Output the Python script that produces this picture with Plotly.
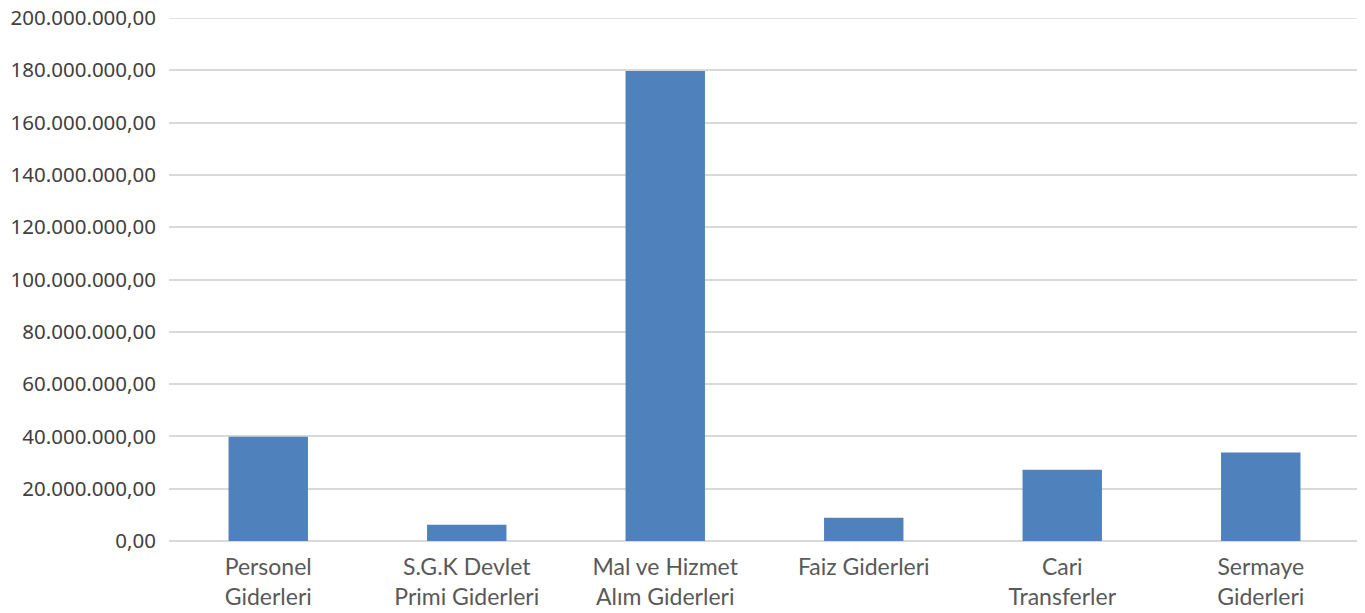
import plotly.graph_objects as go

categories = ["Personel<br>Giderleri", "S.G.K Devlet<br>Primi Giderleri", "Mal ve Hizmet<br>Alım Giderleri",
              "Faiz Giderleri", "Cari<br>Transferler", "Sermaye<br>Giderleri"]
values = [39900000, 6250000, 179700000, 8900000, 27200000, 33800000]
y_ticks = [0, 20000000, 40000000, 60000000, 80000000, 100000000, 120000000, 140000000, 160000000, 180000000, 200000000]

fig = go.Figure(go.Bar(x=categories, y=values, marker=dict(color="#4f81bd", line=dict(width=0))))

fig.update_layout(
    width=1365, height=613,
    margin=dict(l=161, r=13, t=10, b=80),
    paper_bgcolor="white", plot_bgcolor="white",
    separators=",.",
    bargap=0.6,
    showlegend=False,
)
# top gridline (plotly drops the grid line lying exactly on the plot edge)
fig.add_shape(type="line", xref="paper", x0=0, x1=1, yref="y", y0=y_ticks[-1], y1=y_ticks[-1],
              line=dict(color="#d9d9d9", width=1.5), layer="below")
fig.update_yaxes(range=[0, 200000000], tickvals=y_ticks, tickformat=",.2f",
                 showgrid=True, gridcolor="#d9d9d9", gridwidth=1.5,
                 zeroline=True, zerolinecolor="#d9d9d9", zerolinewidth=1.5,
                 showline=False, ticks="", ticklabelstandoff=12, automargin=False,
                 ticklabeloverflow="allow",
                 tickfont=dict(family="Noto Sans", size=20.5, color="#404040"))
fig.update_xaxes(showgrid=False, showline=False, ticks="", ticklabelstandoff=10, automargin=False,
                 tickfont=dict(family="Lato", size=23, color="#595959"))

fig.write_html("out.html")
